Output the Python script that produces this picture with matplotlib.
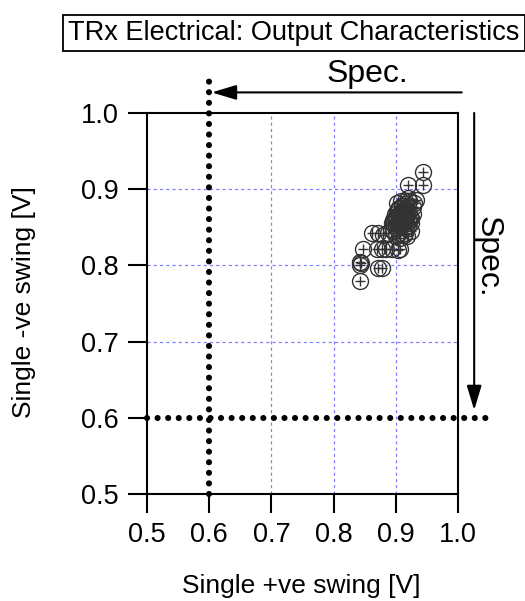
import numpy as np
import matplotlib
matplotlib.use("Agg")
import matplotlib.pyplot as plt

plt.rcParams['font.family'] = ['Liberation Sans', 'DejaVu Sans']

title = "TRx Electrical: Output Characteristics"
xlabel = "Single +ve swing [V]"
ylabel = "Single -ve swing [V]"
spec_x = 0.6
spec_y = 0.6
ticks = [0.5, 0.6, 0.7, 0.8, 0.9, 1.0]
tick_labels = ["0.5", "0.6", "0.7", "0.8", "0.9", "1.0"]

pos_swing = [0.944, 0.919, 0.944,
             0.842, 0.842, 0.843, 0.844,
             0.872, 0.878,
             0.847, 0.869, 0.878, 0.884, 0.894, 0.906, 0.903,
             0.861, 0.872, 0.880, 0.888, 0.896, 0.905, 0.915, 0.925,
             0.895, 0.900, 0.905, 0.910, 0.915, 0.920, 0.925, 0.903, 0.908, 0.912,
             0.918, 0.922, 0.898, 0.905, 0.910, 0.915, 0.920, 0.928, 0.902, 0.908,
             0.915, 0.922, 0.930, 0.912, 0.900, 0.908, 0.916, 0.892, 0.920, 0.927,
             0.900, 0.906, 0.913, 0.918, 0.924, 0.910, 0.904, 0.897, 0.932, 0.919,
             0.899, 0.903, 0.907, 0.911, 0.914, 0.917, 0.921, 0.896, 0.901, 0.909,
             0.913, 0.917, 0.923, 0.894, 0.902, 0.906, 0.911, 0.916]
neg_swing = [0.923, 0.905, 0.905,
             0.780, 0.800, 0.805, 0.803,
             0.797, 0.797,
             0.822, 0.822, 0.822, 0.822, 0.822, 0.822, 0.820,
             0.843, 0.843, 0.840, 0.842, 0.845, 0.842, 0.843, 0.845,
             0.855, 0.860, 0.858, 0.862, 0.860, 0.858, 0.862, 0.866, 0.870, 0.868,
             0.866, 0.870, 0.868, 0.875, 0.878, 0.880, 0.878, 0.876, 0.882, 0.884,
             0.885, 0.884, 0.882, 0.872, 0.850, 0.852, 0.850, 0.848, 0.852, 0.868,
             0.838, 0.836, 0.840, 0.838, 0.856, 0.864, 0.874, 0.858, 0.886, 0.888,
             0.862, 0.857, 0.864, 0.856, 0.866, 0.862, 0.858, 0.860, 0.864, 0.868,
             0.860, 0.872, 0.864, 0.856, 0.872, 0.861, 0.866, 0.874]

fig = plt.figure(figsize=(5.25, 6.01), dpi=100)
ax = fig.add_axes([0.28, 0.178, 0.5924, 0.634])
ax.set_xlim(0.5, 1.0)
ax.set_ylim(0.5, 1.0)

# grid
for v in [0.7, 0.8, 0.9]:
    ax.axvline(v, color='#8080ff', lw=0.9, ls=(0, (2.5, 2.5)), zorder=1)
    ax.axhline(v, color='#8080ff', lw=0.9, ls=(0, (2.5, 2.5)), zorder=1)

# spec dotted lines
dot = dict(color='black', lw=4.4, ls=(0, (0.01, 1.72)), dash_capstyle='round',
           clip_on=False, zorder=3)
ax.plot([spec_x, spec_x], [0.5, 1.043], **dot)
ax.plot([0.5, 1.048], [spec_y, spec_y], **dot)

# data
ax.plot(pos_swing, neg_swing, 'o', ms=11.5, mfc='none', mec='#333333', mew=1.0, zorder=4)
ax.plot(pos_swing, neg_swing, '+', ms=7, color='#333333', mew=1.0, zorder=4)

# spec arrows
arr = dict(arrowstyle='-|>,head_length=1.5,head_width=0.45', color='black', lw=1.5,
           shrinkA=0, shrinkB=0)
ax.annotate('', xy=(spec_x + 0.004, 1.027), xytext=(1.006, 1.027),
            xycoords='data', annotation_clip=False, arrowprops=arr)
ax.text(0.8545, 1.031, 'Spec.', fontsize=23, ha='center', va='bottom', clip_on=False)
ax.annotate('', xy=(1.026, spec_y + 0.01), xytext=(1.026, 1.0),
            xycoords='data', annotation_clip=False, arrowprops=arr)
ax.text(1.0235, 0.811, 'Spec.', fontsize=23, ha='left', va='center', rotation=-90, clip_on=False)

ax.set_xticks(ticks)
ax.set_xticklabels(tick_labels)
ax.set_yticks(ticks)
ax.set_yticklabels(tick_labels)
ax.tick_params(direction='out', length=14, width=1.5, labelsize=19.5, pad=6.5)
for s in ax.spines.values():
    s.set_linewidth(1.5)

fig.text(301.5 / 525, 1 - 593 / 601, xlabel, fontsize=19, ha='center', va='baseline')
fig.text(24 / 525, 1 - 302.5 / 601, ylabel, fontsize=19, ha='center', va='center', rotation=90)

fig.text(294 / 525, 1 - 33 / 601, title, fontsize=19.5, ha='center', va='center',
         bbox=dict(boxstyle='square,pad=0.2', fc='white', ec='black', lw=1.3))

fig.savefig('out.png', dpi=100)
